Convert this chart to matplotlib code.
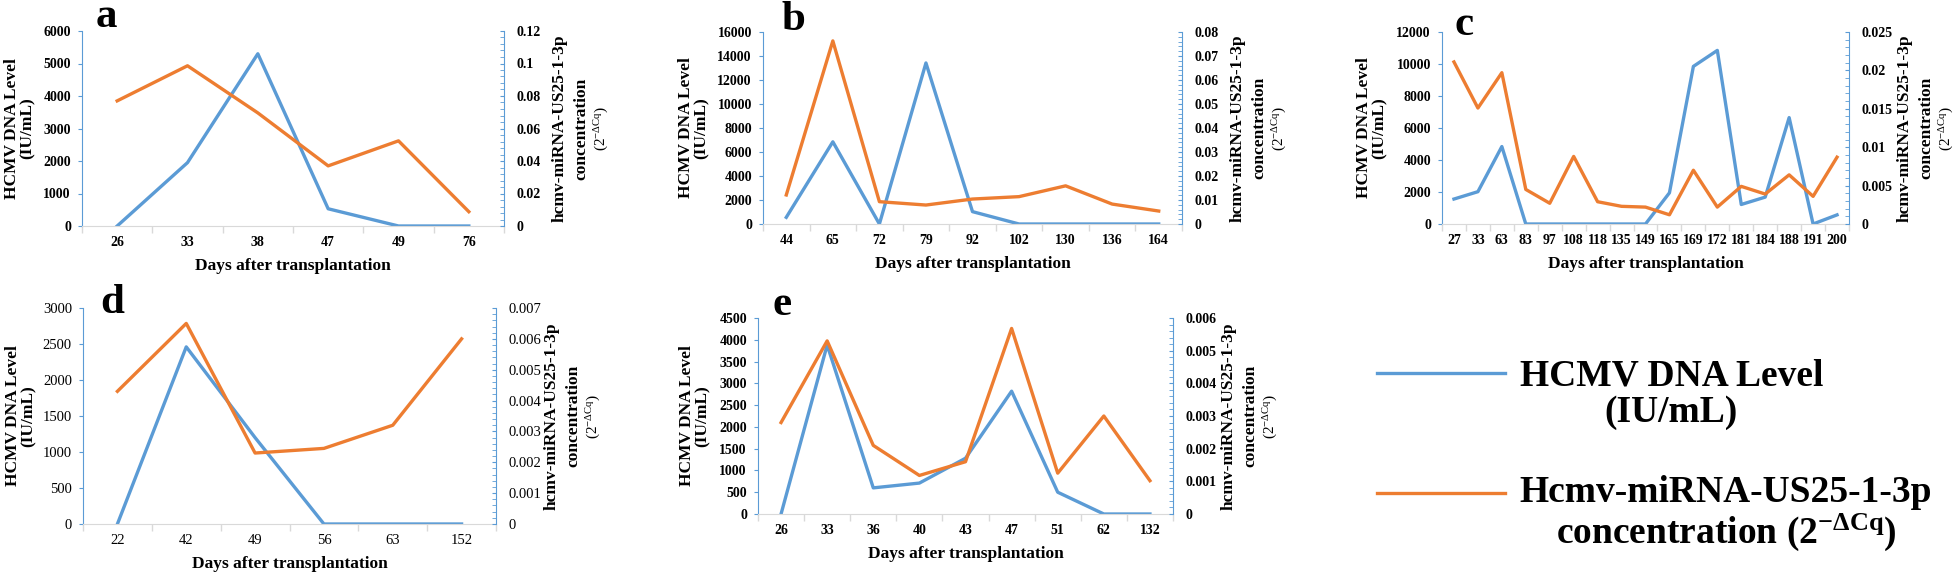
import numpy as np
import matplotlib
matplotlib.use('Agg')
import matplotlib.pyplot as plt
from matplotlib.ticker import MultipleLocator, AutoMinorLocator, FuncFormatter
from matplotlib.transforms import offset_copy
from matplotlib.legend_handler import HandlerLine2D
from matplotlib.lines import Line2D

plt.rcParams['font.family'] = ['Liberation Serif', 'DejaVu Serif']
plt.rcParams['mathtext.fontset'] = 'custom'
plt.rcParams['mathtext.rm'] = 'Liberation Serif'
plt.rcParams['mathtext.bf'] = 'Liberation Serif:bold'
plt.rcParams['mathtext.it'] = 'Liberation Serif:italic'

BLUE = '#5B9BD5'
ORANGE = '#ED7D31'
GREY = '#D9D9D9'

# datos
days_a = ['26', '33', '38', '47', '49', '76']
dna_a = [0, 1950, 5300, 530, 0, 0]
mir_a = [0.077, 0.0986, 0.0696, 0.037, 0.0524, 0.0088]

days_b = ['44', '65', '72', '79', '92', '102', '130', '136', '164']
dna_b = [555, 6850, 0, 13420, 1030, 0, 0, 0, 0]
mir_b = [0.0121, 0.0763, 0.0093, 0.0079, 0.0104, 0.0114, 0.0159, 0.0083, 0.0054]

days_c = ['27', '33', '63', '83', '97', '108', '118', '135', '149', '165',
          '169', '172', '181', '184', '188', '191', '200']
dna_c = [1560, 2020, 4840, 0, 0, 0, 0, 0, 0, 1950,
         9850, 10850, 1220, 1680, 6650, 0, 570]
mir_c = [0.0211, 0.0151, 0.0197, 0.0045, 0.0027, 0.0088, 0.0029, 0.0023, 0.0022,
         0.0012, 0.0070, 0.0022, 0.0049, 0.0039, 0.0064, 0.0036, 0.0087]

days_d = ['22', '42', '49', '56', '63', '152']
dna_d = [0, 2460, 1200, 0, 0, 0]
mir_d = [0.0043, 0.0065, 0.0023, 0.00245, 0.0032, 0.0060]

days_e = ['26', '33', '36', '40', '43', '47', '51', '62', '132']
dna_e = [0, 3880, 600, 710, 1280, 2820, 500, 0, 0]
mir_e = [0.0028, 0.0053, 0.0021, 0.00118, 0.0016, 0.00568, 0.00125, 0.0030, 0.00102]

W, H = 1960, 576
fig = plt.figure(figsize=(W / 100, H / 100), dpi=100)


def fmt(v, pos):
    return '0' if abs(v) < 1e-12 else f'{v:.6g}'


def panel(box, letter, letter_xy, ylab_x, days, dna, mir, ymax, ystep, rmax, rstep, bold=True):
    l, r, t, b = box
    ax = fig.add_axes([l / W, 1 - b / H, (r - l) / W, (b - t) / H])
    n = len(days)
    x = np.arange(n)
    line_dna, = ax.plot(x, dna, color=BLUE, lw=2.4)
    ax.set_xlim(-0.5, n - 0.5)
    ax.set_ylim(0, ymax)
    ax.yaxis.set_major_locator(MultipleLocator(ystep))
    ax.set_xticks(x)
    ax.set_xticklabels(days)
    ax.set_xticks(np.arange(n + 1) - 0.5, minor=True)
    ax.tick_params(axis='x', which='major', length=0, pad=7)
    ax.tick_params(axis='x', which='minor', length=5, color=GREY, width=1)
    ax.tick_params(axis='y', which='major', length=3, color=BLUE, pad=5)
    for s in ['top', 'right']:
        ax.spines[s].set_visible(False)
    ax.spines['bottom'].set_color(GREY)
    ax.spines['left'].set_color(BLUE)

    ax2 = ax.twinx()
    line_mir, = ax2.plot(x, mir, color=ORANGE, lw=2.4)
    ax2.set_ylim(0, rmax)
    ax2.yaxis.set_major_locator(MultipleLocator(rstep))
    ax2.yaxis.set_minor_locator(AutoMinorLocator(5))
    ax2.yaxis.set_major_formatter(FuncFormatter(fmt))
    ax2.tick_params(axis='y', which='both', length=3, direction='in', color=BLUE, pad=9)
    for s in ['top', 'left', 'bottom']:
        ax2.spines[s].set_visible(False)
    ax2.spines['right'].set_color(BLUE)

    w = 'bold' if bold else 'normal'
    size = 10 if bold else 10.5
    for tl in ax.get_xticklabels() + ax.get_yticklabels() + ax2.get_yticklabels():
        tl.set_fontweight(w)
        tl.set_fontsize(size)

    ax.set_ylabel('HCMV DNA Level\n(IU/mL)', fontsize=12.5, fontweight='bold',
                  linespacing=1.0, va='center')
    ax.yaxis.set_label_coords(ylab_x, 0.5)
    ax.set_xlabel('Days after transplantation', fontsize=12.5, fontweight='bold', va='center')
    ax.xaxis.set_label_coords(0.5, -40 / (b - t))

    # etiqueta del eje derecho
    for dx, txt, fw, fs in [(56, 'hcmv-miRNA-US25-1-3p', 'bold', 12.5),
                            (77, 'concentration', 'bold', 12.5),
                            (98, r'(2$^{\mathrm{-\Delta Cq}}$)', 'normal', 11)]:
        ax2.text(1, 0.5, txt, transform=offset_copy(ax2.transAxes, fig=fig, x=dx, units='dots'),
                 rotation=90, ha='center', va='center', fontsize=fs, fontweight=fw)

    fig.text(letter_xy[0] / W, 1 - letter_xy[1] / H, letter, fontsize=31,
             fontweight='bold', ha='left', va='baseline')
    return line_dna, line_mir


h1, h2 = panel((82, 504, 31, 226), 'a', (96, 27), -0.147, days_a, dna_a, mir_a, 6000, 1000, 0.12, 0.02)
panel((763, 1182, 32, 224), 'b', (781, 30), -0.165, days_b, dna_b, mir_b, 16000, 2000, 0.08, 0.01)
panel((1442, 1849, 32, 224), 'c', (1455, 35), -0.172, days_c, dna_c, mir_c, 12000, 2000, 0.025, 0.005)
panel((83, 496, 308, 524), 'd', (100, 313), -0.150, days_d, dna_d, mir_d, 3000, 500, 0.007, 0.001, bold=False)
panel((758, 1173, 318, 514), 'e', (772, 315), -0.152, days_e, dna_e, mir_e, 4500, 500, 0.006, 0.001)


class FirstLineHandler(HandlerLine2D):
    # pone la linea de la leyenda a la altura de la primera linea del texto
    def create_artists(self, legend, orig_handle, xdescent, ydescent, width, height, fontsize, trans):
        arts = super().create_artists(legend, orig_handle, xdescent, ydescent, width, height, fontsize, trans)
        for a in arts:
            a.set_ydata(np.asarray(a.get_ydata()) + 0.58 * fontsize)
        return arts


leg = fig.legend([h1, h2],
                 ['HCMV DNA Level\n(IU/mL)',
                  'Hcmv-miRNA-US25-1-3p\nconcentration (2$^{\\mathbf{-\\Delta Cq}}$)'],
                 loc='upper left', bbox_to_anchor=(1377 / W, 1 - 359 / H),
                 frameon=False, prop={'weight': 'bold', 'size': 27},
                 handlelength=3.4, handletextpad=0.4, labelspacing=1.2,
                 borderpad=0, borderaxespad=0,
                 handler_map={Line2D: FirstLineHandler()})
for t in leg.get_texts():
    t.set_multialignment('center')
    t.set_linespacing(1.04)

fig.savefig('out.png', dpi=100)
